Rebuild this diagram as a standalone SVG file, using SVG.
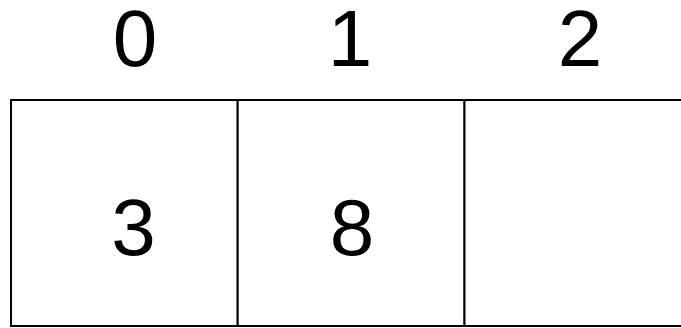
<svg xmlns="http://www.w3.org/2000/svg" width="681" height="328" viewBox="0 0 681 328">
<style>
.cell{fill:#fff;stroke:#000;stroke-width:2}
.t{font-family:"Liberation Sans",Arial,sans-serif;font-size:80px;fill:#000;text-anchor:middle}
</style>
<rect width="681" height="328" fill="#fff"/>
<g id="labels">
<text class="t" x="135" y="66">0</text>
<text class="t" x="350" y="66">1</text>
<text class="t" x="580" y="66">2</text>
</g>
<g id="cell0"><rect class="cell" x="11" y="100" width="226.7" height="226"/><text class="t" x="133.5" y="255">3</text></g>
<g id="cell1"><rect class="cell" x="237.7" y="100" width="226.8" height="226"/><text class="t" x="352" y="255">8</text></g>
<g id="cell2"><rect class="cell" x="464.5" y="100" width="226.7" height="226"/></g>
</svg>
